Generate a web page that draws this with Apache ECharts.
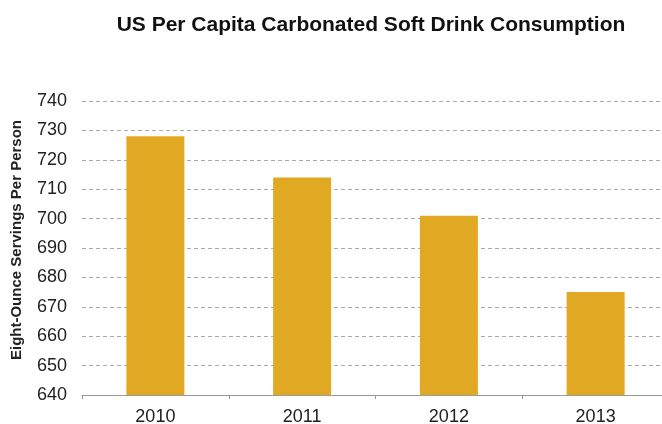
<!DOCTYPE html>
<html><head><meta charset="utf-8">
<script src="https://cdn.jsdelivr.net/npm/echarts@6/dist/echarts.min.js"></script>
<style>html,body{margin:0;padding:0;background:#fff}#c{width:662px;height:424px}</style>
</head><body><div id="c"></div>
<script>
const categories = ['2010', '2011', '2012', '2013'];
const servings = [728, 714, 701, 675];
const chart = echarts.init(document.getElementById('c'), null, {renderer: 'canvas'});
chart.setOption({
  animation: false,
  title: {
    text: 'US Per Capita Carbonated Soft Drink Consumption',
    left: 366, top: 10, textAlign: 'center',
    textStyle: {fontFamily: 'Liberation Sans, Arial', fontWeight: 'bold', fontSize: 21, color: '#111'}
  },
  grid: {left: 82, top: 101, width: 587, height: 294, outerBoundsMode: 'none', containLabel: false},
  xAxis: {
    type: 'category', data: categories,
    axisLine: {lineStyle: {color: '#999'}},
    axisTick: {show: true, lineStyle: {color: '#999'}, length: 4},
    axisLabel: {fontFamily: 'Liberation Sans, Arial', fontSize: 18, color: '#222', margin: 13}
  },
  yAxis: {
    type: 'value', min: 640, max: 740, interval: 10,
    name: 'Eight-Ounce Servings Per Person', nameLocation: 'middle', nameGap: 58,
    nameTextStyle: {fontFamily: 'Liberation Sans, Arial', fontWeight: 'bold', fontSize: 15, color: '#222', padding: [0, 0, 0, 16]},
    axisLine: {show: false}, axisTick: {show: false},
    axisLabel: {fontFamily: 'Liberation Sans, Arial', fontSize: 18, color: '#222', margin: 15},
    splitLine: {lineStyle: {type: [4, 3], color: '#aaa'}}
  },
  series: [{
    type: 'bar', data: servings, barWidth: 58,
    itemStyle: {color: '#E1A823'}
  }]
});
</script></body></html>
